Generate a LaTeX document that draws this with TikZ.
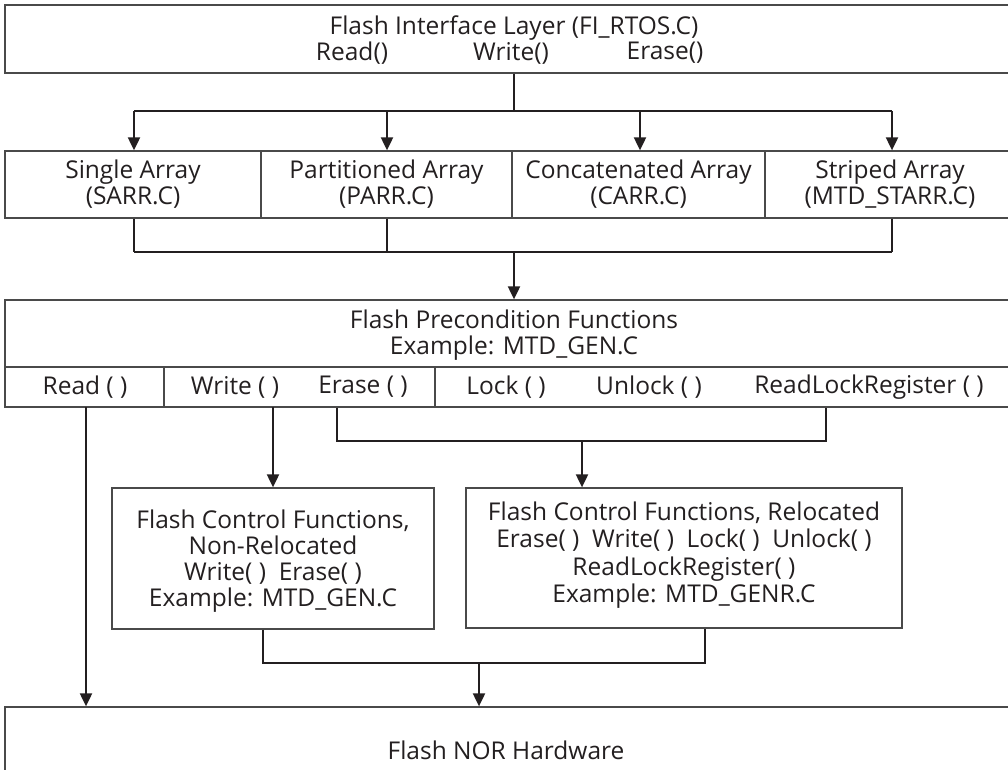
\documentclass[tikz,border=0pt]{standalone}
\usepackage{fontspec}
\setmainfont{Open Sans}
\usetikzlibrary{arrows.meta}
\definecolor{ink}{HTML}{231F20}
\definecolor{frame}{HTML}{4A4A4A}
\tikzset{
  box/.style={draw=frame, line width=1.3pt, inner sep=0pt},
  lbl/.style={text=ink, inner sep=0pt, align=center,
              font=\fontsize{24.5}{26}\selectfont},
  wire/.style={draw=ink, line width=2pt},
  feed/.style={wire, -{Triangle[width=12pt,length=13pt]}},
}
\begin{document}
\begin{tikzpicture}[x=1pt, y=-1pt]
  \useasboundingbox (0,0) rectangle (1008,769);
  \clip (0,0) rectangle (1008,769);

  % ---- boxes ----
  \node[box, minimum width=1010pt, minimum height=68pt] (top)  at (510,39) {};
  \node[box, minimum width=256pt,  minimum height=67pt] (arr1) at (133,184.5) {};
  \node[box, minimum width=251pt,  minimum height=67pt] (arr2) at (386.5,184.5) {};
  \node[box, minimum width=253pt,  minimum height=67pt] (arr3) at (638.5,184.5) {};
  \node[box, minimum width=250pt,  minimum height=67pt] (arr4) at (890,184.5) {};
  \node[box, minimum width=1010pt, minimum height=67pt] (pre)  at (510,333.5) {};
  \node[box, minimum width=159pt,  minimum height=40pt] (fn1)  at (84.5,387) {};
  \node[box, minimum width=271pt,  minimum height=40pt] (fn2)  at (299.5,387) {};
  \node[box, minimum width=580pt,  minimum height=40pt] (fn3)  at (725,387) {};
  \node[box, minimum width=322pt,  minimum height=141pt] (nr)  at (273,558.5) {};
  \node[box, minimum width=436pt,  minimum height=140pt] (rel) at (684,558) {};
  \node[box, minimum width=1010pt, minimum height=80pt] (hw)   at (510,747) {};

  % ---- texts ----
  \node[lbl] (ttl) at (514,28) {Flash Interface Layer (FI\_RTOS.C)};
  \node[lbl] (tr)  at (352,53) {Read()};
  \node[lbl] (tw)  at (511,53) {Write()};
  \node[lbl] (te)  at (665,53) {Erase()};

  \node[lbl] (a1) at (arr1) {Single Array\\(SARR.C)};
  \node[lbl] (a2) at (arr2) {Partitioned Array\\(PARR.C)};
  \node[lbl] (a3) at (arr3) {Concatenated Array\\(CARR.C)};
  \node[lbl] (a4) at (arr4) {Striped Array\\(MTD\_STARR.C)};

  \node[lbl] (pt) at (514,335) {Flash Precondition Functions\\Example: MTD\_GEN.C};
  \node[lbl] (pr)  at (85,387)  {Read ( )};
  \node[lbl] (pw)  at (235,387) {Write ( )};
  \node[lbl] (pe)  at (363,387) {Erase ( )};
  \node[lbl] (pl)  at (506,387) {Lock ( )};
  \node[lbl] (pu)  at (649,387) {Unlock ( )};
  \node[lbl] (prl) at (869,387) {ReadLockRegister ( )};

  \node[lbl] (nrt) at (273,561) {Flash Control Functions,\\Non-Relocated\\Write( )\ \ Erase( )\\Example: MTD\_GEN.C};
  \node[lbl, font=\fontsize{24.5}{27.5}\selectfont] (relt) at (684,555)
    {Flash Control Functions, Relocated\\Erase( )\ \ Write( )\ \ Lock( )\ \ Unlock( )\\ReadLockRegister( )\\Example: MTD\_GENR.C};

  \node[lbl] (hwt) at (506,750) {Flash NOR Hardware};

  % ---- junction points ----
  \coordinate (b1)  at (514,111);
  \coordinate (b1l) at (134,111);
  \coordinate (b1r) at (892,111);
  \coordinate (b2)  at (514,252);
  \coordinate (b2l) at (134,252);
  \coordinate (b2m) at (387,252);
  \coordinate (b2r) at (892,252);
  \coordinate (rd)  at (86,407);
  \coordinate (wr)  at (273,407);
  \coordinate (b3)  at (582,441);
  \coordinate (b3l) at (337,441);
  \coordinate (b3r) at (826,441);
  \coordinate (b4)  at (479,663);
  \coordinate (b4l) at (263,663);
  \coordinate (b4r) at (705,663);

  % ---- interface layer to array drivers ----
  \draw[wire] (top.south -| b1) -- (b1);
  \draw[wire] (b1l) -- (b1r);
  \draw[feed] (b1l) -- (b1l |- arr1.north);
  \draw[feed] (b1l -| 387,0) -- (arr2.north -| 387,0);
  \draw[feed] (b1l -| 640,0) -- (arr3.north -| 640,0);
  \draw[feed] (b1r) -- (b1r |- arr4.north);

  % ---- array drivers to precondition layer ----
  \draw[wire] (arr1.south -| b2l) -- (b2l);
  \draw[wire] (arr2.south -| b2m) -- (b2m);
  \draw[wire] (arr4.south -| b2r) -- (b2r);
  \draw[wire] (b2l) -- (b2r);
  \draw[feed] (b2) -- (pre.north -| b2);

  % ---- precondition functions downwards ----
  \draw[feed] (rd) -- (hw.north -| rd);
  \draw[feed] (wr) -- (nr.north -| wr);
  \draw[wire] (fn2.south -| b3l) -- (b3l) -- (b3r) -- (fn3.south -| b3r);
  \draw[feed] (b3) -- (rel.north -| b3);

  % ---- control functions to hardware ----
  \draw[wire] (nr.south -| b4l) -- (b4l) -- (b4r) -- (rel.south -| b4r);
  \draw[feed] (b4) -- (hw.north -| b4);
\end{tikzpicture}
\end{document}
